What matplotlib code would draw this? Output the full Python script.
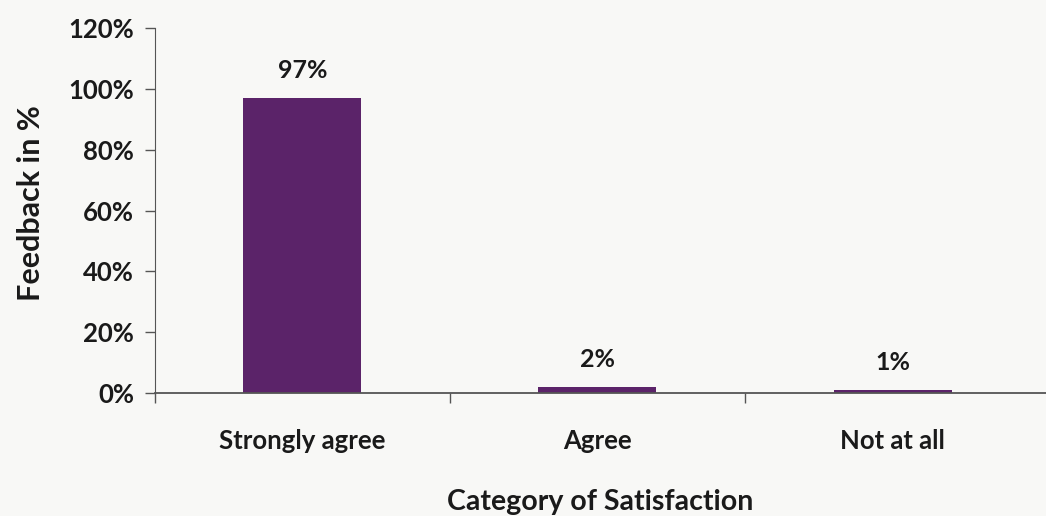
import matplotlib
matplotlib.use("Agg")
import matplotlib.pyplot as plt
from matplotlib.ticker import FuncFormatter

categories = ["Strongly agree", "Agree", "Not at all"]
values = [97, 2, 1]
value_labels = ["97%", "2%", "1%"]
yticks = [0, 20, 40, 60, 80, 100, 120]

plt.rcParams['font.family'] = ['Lato', 'DejaVu Sans']

fig = plt.figure(figsize=(10.46, 5.16), dpi=100)
fig.patch.set_facecolor('#f8f8f6')
ax = fig.add_axes([0.148, 0.2384, 0.852, 0.7073])
ax.set_facecolor('#f8f8f6')

x = list(range(len(categories)))
ax.bar(x, values, width=0.4, color='#5b2369', zorder=2)
for xi, v, lab in zip(x, values, value_labels):
    ax.text(xi, v + 9, lab, ha='center', va='center', fontsize=18, fontweight='bold', color='#1a1a1a')

ax.set_xlim(-0.5, 2.52)
ax.set_ylim(0, 120)
ax.set_yticks(yticks)
ax.yaxis.set_major_formatter(FuncFormatter(lambda v, p: f"{int(v)}%"))
ax.set_xticks([-0.5, 0.5, 1.5])
ax.set_xticklabels([])
ax.set_xticks(x, minor=True)
ax.set_xticklabels(categories, minor=True)
ax.tick_params(axis='x', which='minor', length=0, pad=26, labelsize=18.5, labelcolor='#1a1a1a')
ax.tick_params(axis='x', which='major', length=7, width=1, color='#555555', direction='out')
ax.tick_params(axis='y', length=7, width=1, color='#555555', labelsize=18.5, pad=8, labelcolor='#1a1a1a')
for lab in ax.get_yticklabels():
    lab.set_fontweight('bold')
for lab in ax.get_xticklabels(minor=True):
    lab.set_fontweight('bold')

for s in ['top', 'right']:
    ax.spines[s].set_visible(False)
ax.spines['left'].set_color('#555555')
ax.spines['bottom'].set_color('#555555')
ax.spines['bottom'].set_linewidth(1.3)

ax.set_ylabel("Feedback in %", fontsize=22, fontweight='bold', color='#1a1a1a', labelpad=17)
ax.yaxis.label.set_y(0.52)
ax.set_xlabel("Category of Satisfaction", fontsize=20.5, fontweight='bold', color='#1a1a1a', labelpad=26)

fig.savefig("out.png", dpi=100, facecolor=fig.get_facecolor())
